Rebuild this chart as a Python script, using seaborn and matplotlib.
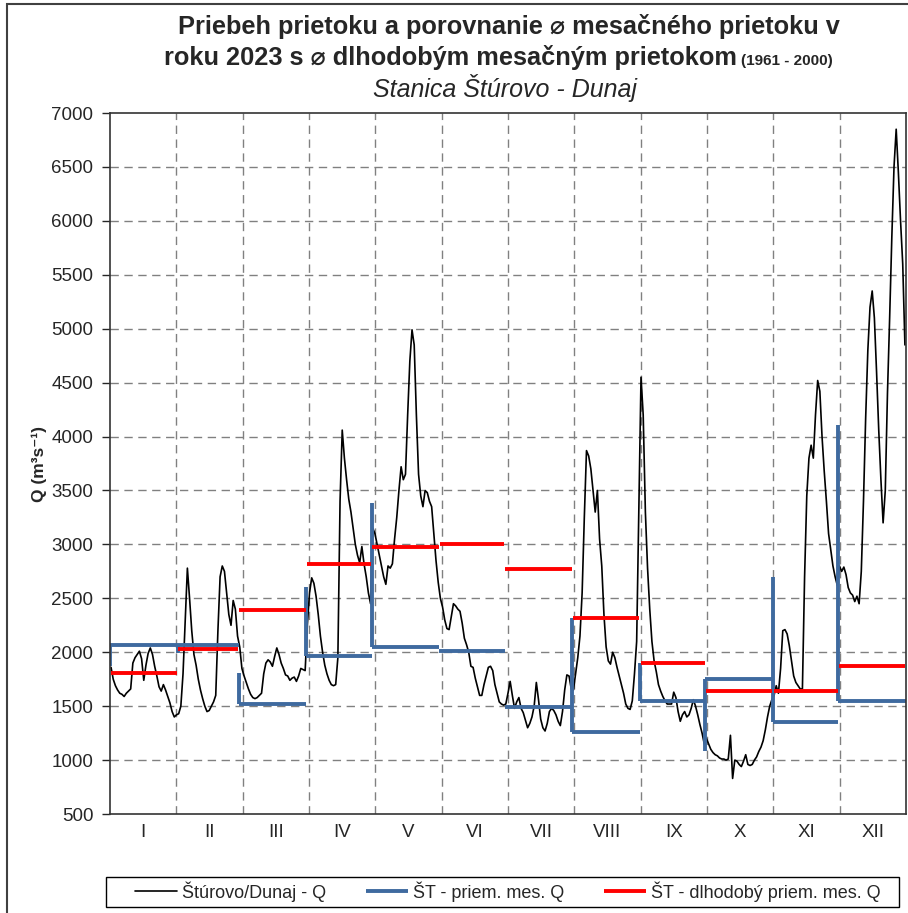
import numpy as np
import pandas as pd
import seaborn as sns
import matplotlib.pyplot as plt
from matplotlib.patches import Rectangle

sns.set_style("white")
plt.rcParams['font.family'] = ['Liberation Sans', 'DejaVu Sans']

# ---------- DATA ----------
months = ["I", "II", "III", "IV", "V", "VI", "VII", "VIII", "IX", "X", "XI", "XII"]
days_in_month = [31, 28, 31, 30, 31, 30, 31, 31, 30, 31, 30, 31]

# daily discharge 2023, m3/s
q_jan = [1860, 1750, 1690, 1650, 1620, 1610, 1590, 1620, 1640, 1660, 1900, 1950, 1980, 2010, 1940, 1740,
         1880, 1990, 2040, 1980, 1870, 1780, 1680, 1640, 1700, 1650, 1590, 1530, 1450, 1400, 1420]
q_feb = [1430, 1500, 1800, 2300, 2780, 2500, 2200, 1980, 1880, 1750, 1650, 1570, 1500, 1450, 1460, 1500,
         1540, 1600, 2200, 2700, 2800, 2750, 2550, 2350, 2250, 2480, 2400, 2150]
q_mar = [2050, 1850, 1780, 1720, 1660, 1610, 1580, 1570, 1580, 1600, 1620, 1800, 1900, 1930, 1910, 1870,
         1960, 2040, 1980, 1900, 1850, 1790, 1780, 1740, 1760, 1770, 1730, 1780, 1850, 1840, 1830]
q_apr = [2250, 2550, 2690, 2640, 2520, 2350, 2150, 2000, 1880, 1800, 1740, 1700, 1690, 1700, 1950, 3400,
         4060, 3800, 3600, 3420, 3300, 3150, 3000, 2900, 2830, 2980, 2820, 2700, 2550, 2450]
q_may = [3150, 3100, 3000, 2900, 2800, 2700, 2630, 2800, 2780, 2820, 3050, 3250, 3500, 3720, 3600, 3650,
         4200, 4700, 4990, 4850, 4200, 3650, 3450, 3350, 3500, 3480, 3400, 3350, 3100, 2850, 2650]
q_jun = [2500, 2420, 2300, 2220, 2210, 2330, 2450, 2430, 2400, 2380, 2270, 2130, 2070, 2000, 1870, 1860,
         1760, 1680, 1600, 1600, 1700, 1780, 1860, 1870, 1830, 1700, 1620, 1540, 1520, 1510]
q_jul = [1520, 1620, 1730, 1600, 1480, 1540, 1580, 1480, 1440, 1370, 1300, 1340, 1400, 1500, 1720, 1560,
         1380, 1300, 1270, 1340, 1450, 1480, 1460, 1420, 1360, 1320, 1450, 1650, 1790, 1780, 1660]
q_aug = [1650, 1800, 1950, 2150, 2550, 3250, 3870, 3820, 3700, 3500, 3300, 3500, 3050, 2800, 2350, 2050,
         1920, 1890, 2000, 1950, 1860, 1780, 1700, 1620, 1520, 1480, 1470, 1550, 1800, 2100, 3300]
q_sep = [4550, 4200, 3300, 2780, 2400, 2100, 1920, 1820, 1700, 1640, 1590, 1550, 1520, 1520, 1520, 1630,
         1580, 1450, 1360, 1420, 1450, 1400, 1420, 1480, 1560, 1500, 1420, 1330, 1250, 1150]
q_oct = [1200, 1150, 1100, 1070, 1050, 1040, 1020, 1010, 1010, 1000, 1010, 1230, 830, 1000, 990, 960,
         940, 990, 1050, 960, 950, 960, 1000, 1030, 1080, 1120, 1180, 1280, 1400, 1500, 1560]
q_nov = [1600, 1690, 1620, 1850, 2200, 2210, 2170, 2060, 1920, 1780, 1720, 1690, 1660, 1660, 2700, 3450,
         3800, 3920, 3800, 4200, 4520, 4420, 4000, 3680, 3400, 3100, 2950, 2800, 2700, 2620]
q_dec = [2800, 2750, 2790, 2720, 2600, 2550, 2530, 2470, 2520, 2450, 2750, 3400, 4170, 4800, 5200, 5350,
         5100, 4600, 4060, 3600, 3200, 3500, 4400, 5100, 5850, 6500, 6850, 6450, 6000, 5600, 4850]

# monthly mean 2023 (blue) and its vertical connectors at month start
mean_2023 = [2070, 2070, 1520, 1965, 2048, 2011, 1492, 1260, 1548, 1748, 1355, 1550]
conn_low = [1870, 1990, 1520, 1965, 2048, np.nan, np.nan, 1260, 1548, 1085, 1355, 1550]
conn_high = [2070, 2070, 1807, 2605, 3384, np.nan, np.nan, 2317, 1900, 1748, 2697, 4110]

# long-term monthly mean 1961-2000 (red)
mean_longterm = [1805, 2030, 2390, 2815, 2975, 3005, 2770, 2315, 1900, 1640, 1638, 1875]

# ---------- PREP ----------
q_all = q_jan + q_feb + q_mar + q_apr + q_may + q_jun + q_jul + q_aug + q_sep + q_oct + q_nov + q_dec
daily = pd.DataFrame({"day": np.arange(len(q_all)) + 0.5, "Q": q_all})
m_start = np.concatenate([[0], np.cumsum(days_in_month)[:-1]])
m_end = np.cumsum(days_in_month)
n_days = m_end[-1]

blue = "#3F6A9F"
red = "#FF0000"

# ---------- PLOT ----------
fig = plt.figure(figsize=(9.08, 9.13), dpi=100)
ax = fig.add_axes([0.1211, 0.1084, 0.8767, 0.7678])

sns.lineplot(data=daily, x="day", y="Q", color="black", lw=1.2, ax=ax,
             label="Štúrovo/Dunaj - Q", legend=False)
ax.vlines(m_start, conn_low, conn_high, color=blue, lw=2.8)
ax.hlines(mean_2023, m_start, m_end, color=blue, lw=2.8, label="ŠT - priem. mes. Q")
ax.hlines(mean_longterm, m_start + 0.3, m_end - 0.3, color=red, lw=2.8,
          label="ŠT - dlhodobý priem. mes. Q")

ax.set_xlim(0, n_days)
ax.set_ylim(500, 7000)
ax.set_yticks(np.arange(500, 7001, 500))
ax.tick_params(axis="y", labelsize=13.5, length=6, width=1, direction="out", left=True, pad=6)

grid_x = np.arange(1, 12) * n_days / 12
for gx in grid_x:
    ax.axvline(gx, color="#808080", lw=1, ls=(0, (6, 4)), zorder=0)
for gy in np.arange(1000, 7000, 500):
    ax.axhline(gy, color="#808080", lw=1, ls=(0, (6, 4)), zorder=0)

ax.set_xticks((np.arange(12) + 0.5) * n_days / 12)
ax.set_xticklabels(months, fontsize=13.5)
ax.tick_params(axis="x", length=0, pad=7)
ax.set_xlabel("")
ax.set_ylabel("Q (m³s⁻¹)", fontsize=12.5, fontweight="bold", labelpad=3)

for s in ax.spines.values():
    s.set_color("#333333")
    s.set_linewidth(1.2)

# ---------- TITLES ----------
fig.text(0.5606, 0.9715, "Priebeh prietoku a porovnanie ⌀ mesačného prietoku v",
         ha="center", va="center", fontsize=18.3, fontweight="bold")
fig.text(0.812, 0.9365, "roku 2023 s ⌀ dlhodobým mesačným prietokom",
         ha="right", va="center", fontsize=18.3, fontweight="bold")
fig.text(0.816, 0.933, "(1961 - 2000)", ha="left", va="center", fontsize=11, fontweight="bold")
fig.text(0.556, 0.9036, "Stanica Štúrovo - Dunaj", ha="center", va="center",
         fontsize=18, style="italic")

# ---------- LEGEND ----------
handles, labels = ax.get_legend_handles_labels()
leg = fig.legend(handles, labels, loc="center", bbox_to_anchor=(0.5595, 0.0235), ncol=3,
                 fontsize=13, frameon=False,
                 handlelength=2.3, handletextpad=0.3, columnspacing=2.2)
# legend box (wider than the legend entries, as in the original)
fig.patches.append(Rectangle((106 / 908, 1 - 907 / 913), 793 / 908, 30 / 913,
                             transform=fig.transFigure, fill=False, edgecolor="black", lw=1))

# border round the whole figure
fig.patches.append(Rectangle((0.0077, -0.5), 2, 0.9951 + 0.5, transform=fig.transFigure,
                             fill=False, edgecolor="#404040", lw=1.5))

plt.savefig("out.png", dpi=100)
plt.close()
